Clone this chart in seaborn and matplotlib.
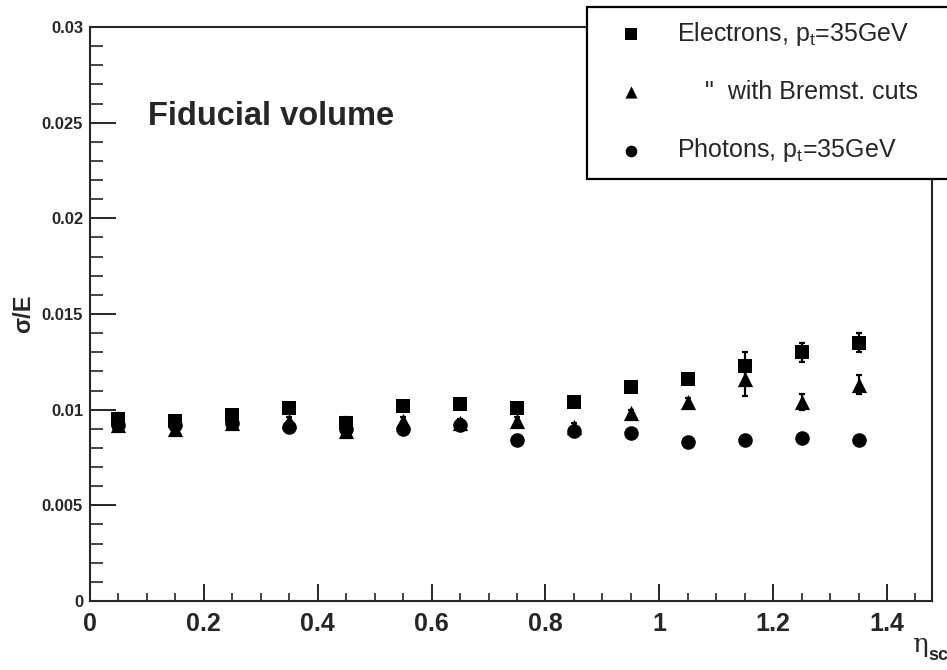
import matplotlib
matplotlib.use('Agg')
import matplotlib.pyplot as plt
from matplotlib.ticker import MultipleLocator, FuncFormatter
from matplotlib.patches import Rectangle
import numpy as np
import pandas as pd
import seaborn as sns

# eta bin centres
eta = [0.05, 0.15, 0.25, 0.35, 0.45, 0.55, 0.65, 0.75, 0.85, 0.95, 1.05, 1.15, 1.25, 1.35]

# sigma/E for each sample
electrons = [0.0095, 0.0094, 0.0097, 0.0101, 0.0093, 0.0102, 0.0103, 0.0101, 0.0104, 0.0112, 0.0116, 0.0123, 0.0130, 0.0135]
electrons_err = [0.0003, 0.0002, 0.0003, 0.0002, 0.0003, 0.0002, 0.0002, 0.0002, 0.0002, 0.0002, 0.0002, 0.0007, 0.0005, 0.0005]
bremst = [0.0092, 0.0090, 0.0093, 0.0094, 0.0089, 0.0094, 0.0093, 0.0094, 0.0091, 0.0098, 0.0104, 0.0116, 0.0104, 0.0113]
bremst_err = [0.0002, 0.0002, 0.0002, 0.0002, 0.0002, 0.0002, 0.0002, 0.0002, 0.0002, 0.0002, 0.0002, 0.0009, 0.0004, 0.0005]
photons = [0.0092, 0.0092, 0.0093, 0.0091, 0.0090, 0.0090, 0.0092, 0.0084, 0.0089, 0.0088, 0.0083, 0.0084, 0.0085, 0.0084]
photons_err = [0.0001] * 14

labels = ['Electrons, p$_\\mathregular{t}$=35GeV',
          '    "  with Bremst. cuts',
          'Photons, p$_\\mathregular{t}$=35GeV']
markers = ['s', '^', 'o']

sns.set_style('ticks')
plt.rcParams['font.family'] = ['Liberation Sans', 'DejaVu Sans']
plt.rcParams['mathtext.fontset'] = 'custom'
plt.rcParams['mathtext.rm'] = 'Liberation Sans'

fig = plt.figure(figsize=(9.47, 6.7), dpi=100)
ax = fig.add_axes([90 / 947, 1 - 601 / 670, (932 - 90) / 947, (601 - 27) / 670])

series = [(electrons, electrons_err), (bremst, bremst_err), (photons, photons_err)]
for (vals, errs), lab, m in zip(series, labels, markers):
    df = pd.DataFrame({'eta': eta, 'sigma': vals})
    ax.errorbar(eta, vals, yerr=errs, fmt='none', ecolor='black', elinewidth=1.6, capsize=2.5, capthick=1.6)
    sns.scatterplot(data=df, x='eta', y='sigma', marker=m, color='black', s=110 if m != '^' else 120,
                    edgecolor='black', linewidth=0, label=lab, ax=ax, zorder=3)

ax.set_xlim(0, 1.479)
ax.set_ylim(0, 0.03)
ax.xaxis.set_major_locator(MultipleLocator(0.2))
ax.xaxis.set_minor_locator(MultipleLocator(0.05))
ax.yaxis.set_major_locator(MultipleLocator(0.005))
ax.yaxis.set_minor_locator(MultipleLocator(0.001))
ax.xaxis.set_major_formatter(FuncFormatter(lambda v, p: f'{v:g}'))
ax.yaxis.set_major_formatter(FuncFormatter(lambda v, p: f'{v:g}'))

ax.tick_params(axis='x', which='major', direction='in', length=12, width=1.4, labelsize=18, pad=8)
ax.tick_params(axis='x', which='minor', direction='in', length=6, width=1.2)
ax.tick_params(axis='y', which='major', direction='in', length=19, width=1.4, labelsize=12, pad=5)
ax.tick_params(axis='y', which='minor', direction='in', length=9.5, width=1.2)
for lab in ax.get_xticklabels() + ax.get_yticklabels():
    lab.set_fontweight('bold')
for sp in ax.spines.values():
    sp.set_linewidth(1.5)
    sp.set_visible(True)

ax.set_xlabel('')
ax.set_ylabel('σ/E', fontsize=17, fontweight='bold', labelpad=5)

ax.text(148 / 947, 1 - 125 / 670, 'Fiducial volume', transform=fig.transFigure,
        fontsize=23.5, fontweight='bold', ha='left', va='baseline')
fig.text(912 / 947, 1 - 652 / 670, 'η', family='DejaVu Serif', fontsize=19, ha='left', va='baseline')
fig.text(928 / 947, 1 - 660 / 670, 'sc', fontsize=13, fontweight='bold', ha='left', va='baseline')

# legend box runs off the right edge like the original
box = Rectangle((587 / 947, 1 - 179 / 670), 0.5, 172 / 670, transform=fig.transFigure,
                facecolor='white', edgecolor='black', linewidth=1.6, zorder=4)
fig.patches.append(box)
leg = ax.legend(loc='upper left', bbox_to_anchor=(587 / 947, 1 - 7 / 670), bbox_transform=fig.transFigure,
                fontsize=18, frameon=False,
                labelspacing=1.3, handlelength=2.5, handletextpad=0.6, borderpad=0.5, borderaxespad=0,
                markerscale=0.8)
leg.set_zorder(5)
leg.remove()
fig.legends.append(leg)

fig.savefig('out.png', dpi=100)
